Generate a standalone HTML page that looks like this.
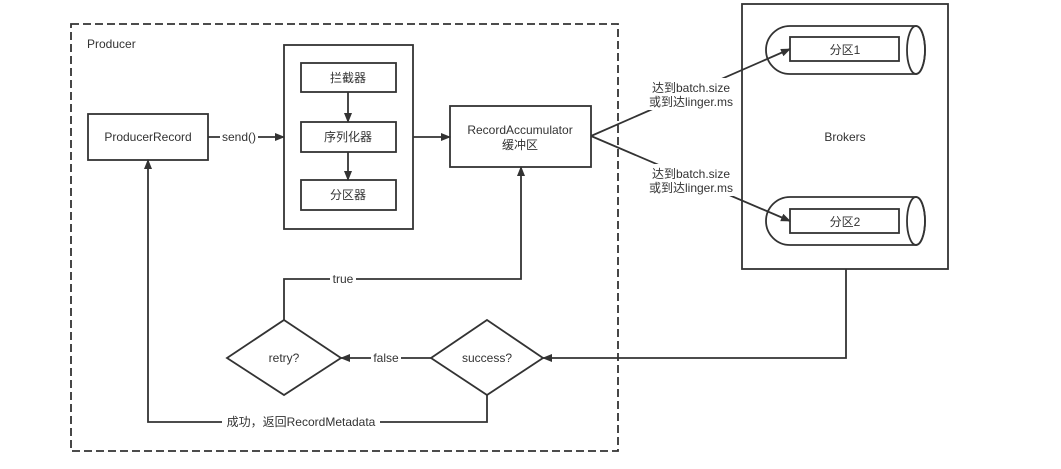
<!DOCTYPE html>
<html><head><meta charset="utf-8"><style>
html,body{margin:0;padding:0;background:#fff;}
svg{display:block;}
text{font-family:"Liberation Sans","Noto Sans CJK SC",sans-serif;font-size:12px;fill:#333;}
</style></head><body>
<svg width="1061" height="469" viewBox="0 0 1061 469" xmlns="http://www.w3.org/2000/svg">
<defs><marker id="a" markerWidth="10" markerHeight="10" refX="9" refY="5" orient="auto" markerUnits="userSpaceOnUse"><path d="M0,1 L10,5 L0,9 Z" fill="#333"/></marker></defs>
<g stroke="#333" fill="none" stroke-width="1.8">
<rect x="71" y="24" width="547" height="427" stroke-dasharray="8,4"/>
<rect x="88" y="114" width="120" height="46" fill="#fff"/>
<rect x="284" y="45" width="129" height="184" fill="#fff"/>
<rect x="301" y="63" width="95" height="29"/>
<rect x="301" y="122" width="95" height="30"/>
<rect x="301" y="180" width="95" height="30"/>
<rect x="450" y="106" width="141" height="61" fill="#fff"/>
<rect x="742" y="4" width="206" height="265"/>
<path d="M790,26 L916,26 A9,24 0 0 1 916,74 L790,74 A24,24 0 0 1 790,26 Z"/>
<ellipse cx="916" cy="50" rx="9" ry="24"/>
<rect x="790" y="37" width="109" height="24"/>
<path d="M790,197 L916,197 A9,24 0 0 1 916,245 L790,245 A24,24 0 0 1 790,197 Z"/>
<ellipse cx="916" cy="221" rx="9" ry="24"/>
<rect x="790" y="209" width="109" height="24"/>
<line x1="208" y1="137" x2="284" y2="137" marker-end="url(#a)"/>
<line x1="348" y1="92" x2="348" y2="122" marker-end="url(#a)"/>
<line x1="348" y1="152" x2="348" y2="180" marker-end="url(#a)"/>
<line x1="413" y1="137" x2="450" y2="137" marker-end="url(#a)"/>
<line x1="591" y1="136" x2="790" y2="49" marker-end="url(#a)"/>
<line x1="591" y1="136" x2="790" y2="221" marker-end="url(#a)"/>
<polygon points="284,320 341,358 284,395 227,358" fill="#fff"/>
<polygon points="487,320 543,358 487,395 431,358" fill="#fff"/>
<polyline points="846,269 846,358 543,358" marker-end="url(#a)"/>
<line x1="431" y1="358" x2="341" y2="358" marker-end="url(#a)"/>
<polyline points="284,320 284,279 521,279 521,167" marker-end="url(#a)"/>
<polyline points="487,395 487,422 148,422 148,160" marker-end="url(#a)"/>
</g>
<g>
<rect x="220" y="129" width="38" height="16" fill="#fff"/>
<rect x="330" y="272" width="26" height="14" fill="#fff"/>
<rect x="371" y="351" width="30" height="14" fill="#fff"/>
<rect x="222" y="414" width="158" height="16" fill="#fff"/>
<rect x="646" y="78" width="90" height="32" fill="#fff"/>
<rect x="646" y="164" width="90" height="32" fill="#fff"/>
</g>
<text x="87" y="48">Producer</text>
<text x="148" y="141" text-anchor="middle">ProducerRecord</text>
<text x="239" y="141" text-anchor="middle">send()</text>
<text x="348" y="82" text-anchor="middle">拦截器</text>
<text x="348" y="141" text-anchor="middle">序列化器</text>
<text x="348" y="199" text-anchor="middle">分区器</text>
<text x="520" y="134" text-anchor="middle">RecordAccumulator</text>
<text x="520" y="149" text-anchor="middle">缓冲区</text>
<text x="691" y="92" text-anchor="middle">达到batch.size</text>
<text x="691" y="106" text-anchor="middle">或到达linger.ms</text>
<text x="691" y="178" text-anchor="middle">达到batch.size</text>
<text x="691" y="192" text-anchor="middle">或到达linger.ms</text>
<text x="845" y="141" text-anchor="middle">Brokers</text>
<text x="845" y="54" text-anchor="middle">分区1</text>
<text x="845" y="226" text-anchor="middle">分区2</text>
<text x="343" y="283" text-anchor="middle">true</text>
<text x="386" y="362" text-anchor="middle">false</text>
<text x="284" y="362" text-anchor="middle">retry?</text>
<text x="487" y="362" text-anchor="middle">success?</text>
<text x="301" y="426" text-anchor="middle">成功，返回RecordMetadata</text>
</svg>
</body></html>
